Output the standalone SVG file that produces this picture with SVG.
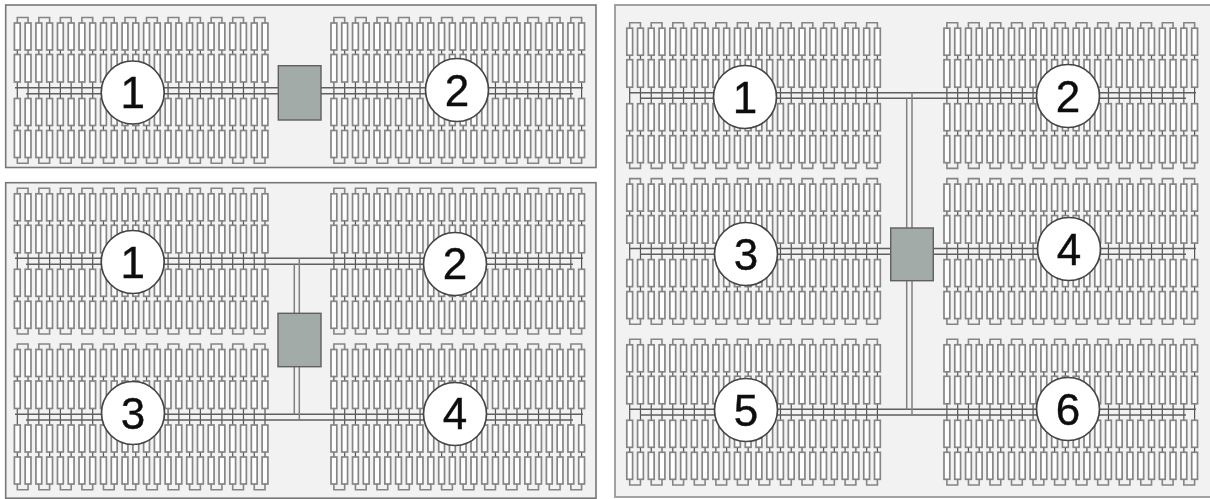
<svg xmlns="http://www.w3.org/2000/svg" width="1210" height="499" viewBox="0 0 1210 499">
<style>
.panel{fill:#f2f2f2;stroke:#777;stroke-width:1.6}
.panel2{fill:#f2f2f2;stroke:#999;stroke-width:1.8}
.tube{fill:#fff;stroke:#858585;stroke-width:1.7}
.link{fill:none;stroke:#555;stroke-width:1.2}
.cap{fill:none;stroke:#858585;stroke-width:1.6}
.bus{fill:none;stroke:#5f5f5f;stroke-width:1.4}
.stem{fill:none;stroke:#808080;stroke-width:1.5}
.box{fill:#a3aba8;stroke:#5f5f5f;stroke-width:1.4}
.hub{fill:#fff;stroke:#444;stroke-width:1.7}
.num{font-family:"Liberation Sans",Arial,sans-serif;font-size:44px;fill:#111;stroke:#111;stroke-width:.4;text-anchor:middle}
</style>
<defs>
<filter id="soft" x="0" y="0" width="100%" height="100%"><feGaussianBlur stdDeviation="0.35"/></filter>
<g id="t">
<path class="link" d="M2.9 32.5V37M2.9 64.5V81M2.9 108V113"/>
<rect class="tube" x="0" y="5.5" width="5.8" height="27"/>
<rect class="tube" x="0" y="37" width="5.8" height="27.5"/>
<rect class="tube" x="0" y="81" width="5.8" height="27"/>
<rect class="tube" x="0" y="113" width="5.8" height="27"/>
</g>
<g id="pair">
<path class="cap" d="M2.9 5.5V0H13.67V5.5M2.9 140V145.7H13.67V140"/>
<use href="#t"/>
<use href="#t" x="10.77"/>
</g>
<g id="block">
<use href="#pair"/>
<use href="#pair" x="21.54"/>
<use href="#pair" x="43.08"/>
<use href="#pair" x="64.62"/>
<use href="#pair" x="86.16"/>
<use href="#pair" x="107.7"/>
<use href="#pair" x="129.24"/>
<use href="#pair" x="150.78"/>
<use href="#pair" x="172.32"/>
<use href="#pair" x="193.86"/>
<use href="#pair" x="215.4"/>
<use href="#pair" x="236.94"/>
</g>
</defs>
<g filter="url(#soft)">
<rect width="1210" height="499" fill="#fff"/>
<g id="panel-a"><rect class="panel" x="5.7" y="5" width="590.3" height="162.5"/></g>
<g id="panel-b"><rect class="panel" x="5.7" y="182.7" width="590.3" height="315.5"/></g>
<g id="panel-c"><rect class="panel2" x="615" y="5" width="600" height="492"/></g>

<g id="a-block-1"><use href="#block" x="14.4" y="17.5"/></g>
<g id="a-block-2"><use href="#block" x="331" y="17.5"/></g>
<g id="b-block-1"><use href="#block" x="14.4" y="188.3"/></g>
<g id="b-block-2"><use href="#block" x="331" y="188.3"/></g>
<g id="b-block-3"><use href="#block" x="14.4" y="344"/></g>
<g id="b-block-4"><use href="#block" x="331" y="344"/></g>
<g id="c-block-1"><use href="#block" x="626.8" y="22.7"/></g>
<g id="c-block-2"><use href="#block" x="944" y="22.7"/></g>
<g id="c-block-3"><use href="#block" x="626.8" y="178.6"/></g>
<g id="c-block-4"><use href="#block" x="944" y="178.6"/></g>
<g id="c-block-5"><use href="#block" x="626.8" y="339.3"/></g>
<g id="c-block-6"><use href="#block" x="944" y="339.3"/></g>

<g id="connectors">
<path class="bus" d="M15 87.7H583M26 93.7H573"/>
<path class="bus" d="M15 258.3H583M26 264.3H573"/>
<path class="bus" d="M15 414.3H583M26 420H573"/>
<path class="stem" d="M294.3 264.3V414.3M299.3 258.3V420"/>
<path class="bus" d="M629 92.7H1196M640 98.3H1186"/>
<path class="bus" d="M629 248.5H1196M640 254.2H1186"/>
<path class="bus" d="M629 409.3H1196M640 415H1186"/>
<path class="stem" d="M906.7 98.3V409.3M912 92.7V415"/>
</g>

<g id="a-unit"><rect class="box" x="278.3" y="65.7" width="42.7" height="54.3"/></g>
<g id="b-unit"><rect class="box" x="278" y="313.3" width="43" height="53.4"/></g>
<g id="c-unit"><rect class="box" x="890.7" y="228" width="42.6" height="52.7"/></g>

<g id="a-1"><circle class="hub" cx="132.7" cy="92.5" r="31.5"/><text class="num" x="132.7" y="107.5">1</text></g>
<g id="a-2"><circle class="hub" cx="457" cy="90" r="31.5"/><text class="num" x="457" y="105.5">2</text></g>
<g id="b-1"><circle class="hub" cx="132.7" cy="262" r="31.5"/><text class="num" x="132.7" y="277.5">1</text></g>
<g id="b-2"><circle class="hub" cx="455" cy="264" r="31.5"/><text class="num" x="455" y="279">2</text></g>
<g id="b-3"><circle class="hub" cx="133" cy="413" r="31.5"/><text class="num" x="133" y="428.5">3</text></g>
<g id="b-4"><circle class="hub" cx="455" cy="414" r="31.5"/><text class="num" x="455" y="429">4</text></g>
<g id="c-1"><circle class="hub" cx="745" cy="97" r="31.5"/><text class="num" x="745" y="112.5">1</text></g>
<g id="c-2"><circle class="hub" cx="1068" cy="96" r="31.5"/><text class="num" x="1068" y="111.5">2</text></g>
<g id="c-3"><circle class="hub" cx="746" cy="254" r="31.5"/><text class="num" x="746" y="269.5">3</text></g>
<g id="c-4"><circle class="hub" cx="1069" cy="249" r="31.5"/><text class="num" x="1069" y="264.5">4</text></g>
<g id="c-5"><circle class="hub" cx="746" cy="410" r="31.5"/><text class="num" x="746" y="425.5">5</text></g>
<g id="c-6"><circle class="hub" cx="1068" cy="409" r="31.5"/><text class="num" x="1068" y="424.5">6</text></g>
</g>
</svg>
